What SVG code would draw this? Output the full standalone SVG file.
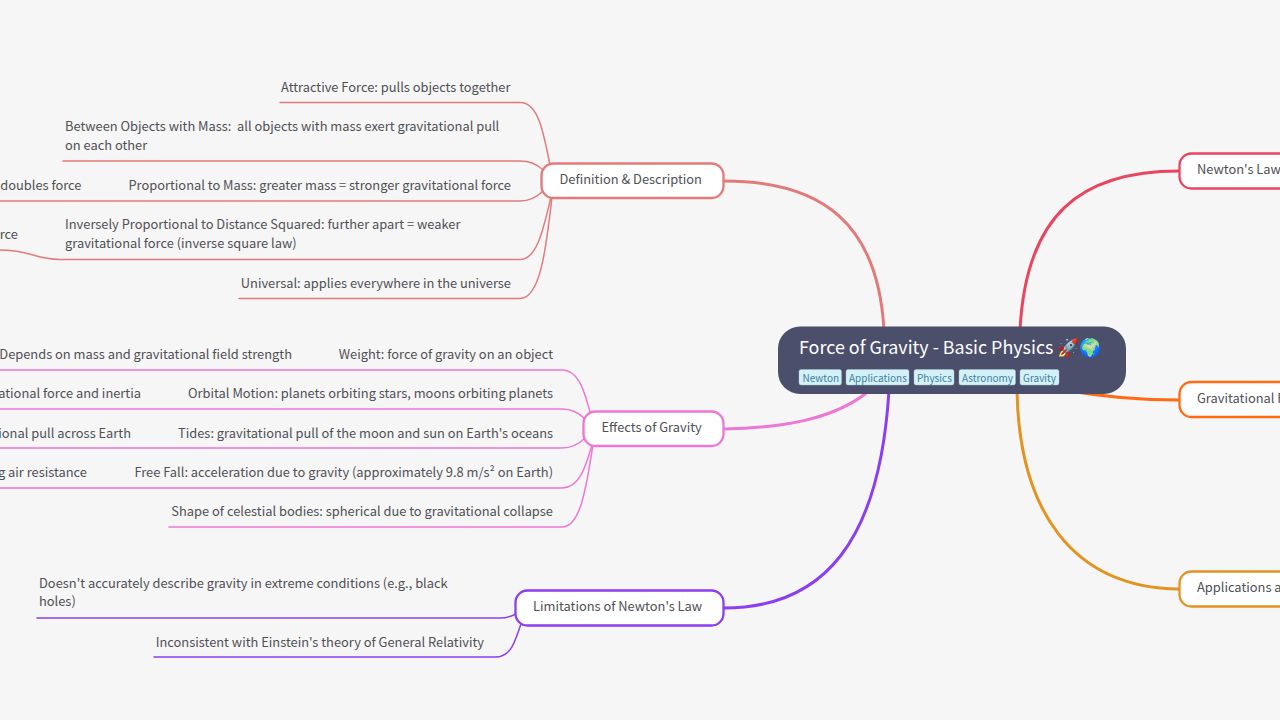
<svg xmlns="http://www.w3.org/2000/svg" width="1280" height="720" viewBox="0 0 1280 720">
<style>
text{font-family:"Noto Sans CJK SC","Noto Sans",sans-serif;fill:#505055;font-size:12.860px;white-space:pre}
.c{fill:none;stroke-linecap:round}
.m{stroke-width:3}
.l{stroke-width:1.5}
.red{stroke:#e27a7a}
.pink{stroke:#ed77d4}
.pur{stroke:#8a3ff0}
.n{fill:#fff;stroke-width:2.300}
.tag{fill:#d4f1f9;stroke:#9cc;stroke-width:.4}
.tt{fill:#3f7f9a;font-size:10px}
</style>
<rect width="1280" height="720" fill="#f6f6f6"/>
<g id="connectors">
<path class="c m red" d="M724 181C824 181 878 225 884 330"/>
<path class="c m" stroke="#e94560" d="M1179 171C1080 171 1026 215 1020 330"/>
<path class="c m" stroke="#ff6a13" d="M1070 391C1110 398 1140 400 1179 400"/>
<path class="c m" stroke="#e39320" d="M1017 390C1019 510 1072 588 1179 589"/>
<path class="c m pink" d="M724 429C780 428 835 420 870 390"/>
<path class="c m pur" d="M724 608C825 608 880 540 889 390"/>
<path class="c l red" d="M280 102.500H520C538 102.500 543 130 550 165"/>
<path class="c l red" d="M63 161H520C530 161 537 164 543 170"/>
<path class="c l red" d="M0 201H520C530 201 537 197 543 191"/>
<path class="c l red" d="M0 250C30 250 35 259.500 60 259.500H520C538 259.500 544 225 551 197"/>
<path class="c l red" d="M239 298.500H520C540 298.500 546 250 552 197"/>
<path class="c l pink" d="M0 370H562C580 370 585 395 590 412"/>
<path class="c l pink" d="M0 409H562C572 409 579 413 585 419"/>
<path class="c l pink" d="M0 448H562C572 448 579 444 585 438"/>
<path class="c l pink" d="M0 488H562C580 488 586 465 592 445"/>
<path class="c l pink" d="M169 527H562C582 527 587 480 593 445"/>
<path class="c l pur" d="M37 618H500C508 618 512 616 516 614"/>
<path class="c l pur" d="M154 657H495C512 657 515 640 521 624"/>
</g>
<g id="root">
<rect x="778" y="326.500" width="348" height="67.500" rx="22" fill="#4c4f6b"/>
<text x="799" y="354" style="font-size:17.900px;fill:#fff">Force of Gravity - Basic Physics 🚀🌍</text>
<rect class="tag" x="799" y="369.500" width="42.500" height="15.500" rx="2"/><text class="tt" x="802.500" y="382">Newton</text>
<rect class="tag" x="846" y="369.500" width="63" height="15.500" rx="2"/><text class="tt" x="849" y="382">Applications</text>
<rect class="tag" x="914" y="369.500" width="40" height="15.500" rx="2"/><text class="tt" x="917" y="382">Physics</text>
<rect class="tag" x="959" y="369.500" width="56.500" height="15.500" rx="2"/><text class="tt" x="962" y="382">Astronomy</text>
<rect class="tag" x="1020" y="369.500" width="39" height="15.500" rx="2"/><text class="tt" x="1023" y="382">Gravity</text>
</g>
<g id="n-definition"><rect class="n red" x="541.500" y="163.500" width="182" height="34.500" rx="12"/><text x="559.500" y="184">Definition &amp; Description</text></g>
<g id="n-effects"><rect class="n pink" x="583.500" y="411.500" width="140" height="34.500" rx="12"/><text x="601.500" y="432">Effects of Gravity</text></g>
<g id="n-limitations"><rect class="n pur" x="515.500" y="590.500" width="208" height="35" rx="12"/><text x="533" y="611">Limitations of Newton's Law</text></g>
<g id="n-newton"><rect class="n" stroke="#e94560" x="1179.500" y="153.500" width="130" height="35" rx="12"/><text x="1197" y="174">Newton's Law</text></g>
<g id="n-field"><rect class="n" stroke="#ff6a13" x="1179.500" y="382" width="130" height="35" rx="12"/><text x="1197" y="403">Gravitational F</text></g>
<g id="n-apps"><rect class="n" stroke="#e39320" x="1179.500" y="571.500" width="130" height="35" rx="12"/><text x="1197" y="592">Applications a</text></g>
<g id="leaves">
<text x="281" y="92">Attractive Force: pulls objects together</text>
<text x="65" y="131">Between Objects with Mass:  all objects with mass exert gravitational pull</text>
<text x="65" y="150">on each other</text>
<text x="81.500" y="190" text-anchor="end">doubles force</text>
<text x="511" y="190" text-anchor="end">Proportional to Mass: greater mass = stronger gravitational force</text>
<text x="18" y="239" text-anchor="end">rce</text>
<text x="65" y="229">Inversely Proportional to Distance Squared: further apart = weaker</text>
<text x="65" y="248">gravitational force (inverse square law)</text>
<text x="511" y="288" text-anchor="end">Universal: applies everywhere in the universe</text>
<text x="292" y="359" text-anchor="end">Depends on mass and gravitational field strength</text>
<text x="553" y="359" text-anchor="end">Weight: force of gravity on an object</text>
<text x="141" y="398" text-anchor="end">ational force and inertia</text>
<text x="553" y="398" text-anchor="end">Orbital Motion: planets orbiting stars, moons orbiting planets</text>
<text x="131" y="438" text-anchor="end">ional pull across Earth</text>
<text x="553" y="438" text-anchor="end">Tides: gravitational pull of the moon and sun on Earth's oceans</text>
<text x="87" y="477" text-anchor="end">g air resistance</text>
<text x="553" y="477" text-anchor="end">Free Fall: acceleration due to gravity (approximately 9.8 m/s² on Earth)</text>
<text x="553" y="516" text-anchor="end">Shape of celestial bodies: spherical due to gravitational collapse</text>
<text x="39" y="588">Doesn't accurately describe gravity in extreme conditions (e.g., black</text>
<text x="39" y="606">holes)</text>
<text x="484" y="646.500" text-anchor="end">Inconsistent with Einstein's theory of General Relativity</text>
</g>
</svg>
